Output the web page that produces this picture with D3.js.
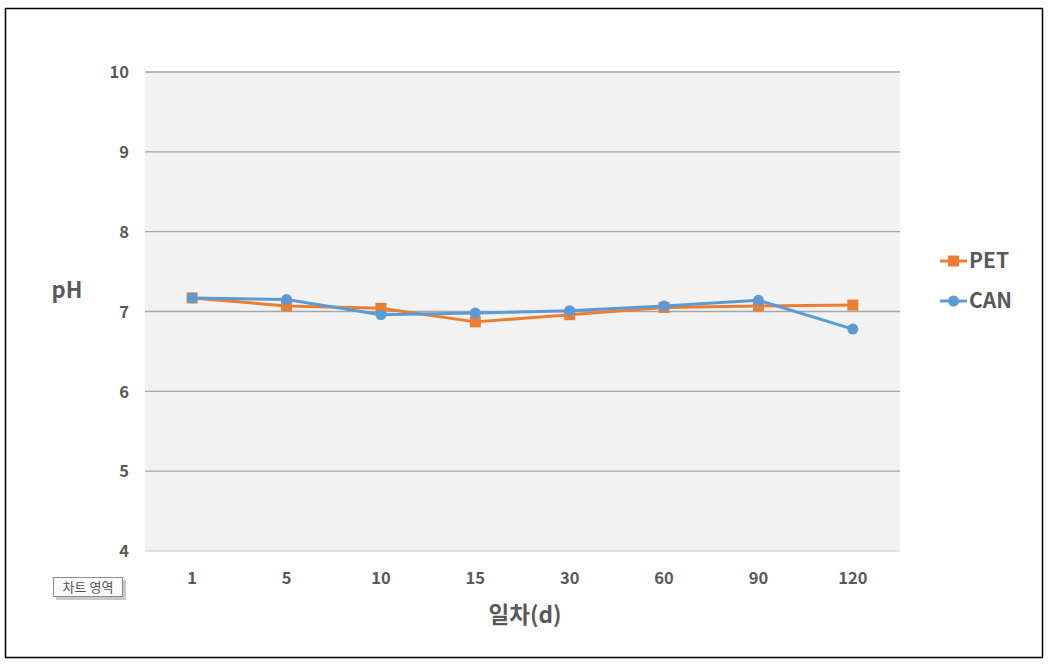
<!DOCTYPE html>
<html><head><meta charset="utf-8">
<script src="https://cdn.jsdelivr.net/npm/d3@7"></script>
<style>body{margin:0;background:#fff;}svg{display:block;}</style>
</head><body>
<svg id="c" width="1050" height="664"></svg>
<script>
const categories = ["1","5","10","15","30","60","90","120"];
const petValues = [7.17, 7.07, 7.04, 6.87, 6.96, 7.05, 7.07, 7.08];
const canValues = [7.17, 7.15, 6.96, 6.98, 7.01, 7.07, 7.14, 6.78];
const yTicks = [4,5,6,7,8,9,10];
const seriesNames = ["PET","CAN"];

const svg = d3.select("#c");
const font = "'Malgun Gothic','Noto Sans CJK KR','Open Sans',sans-serif";
const plot = {l:145, r:900, t:72, b:551};
const x = d3.scaleBand().domain(categories).range([plot.l, plot.r]);
const y = d3.scaleLinear().domain([4,10]).range([plot.b, plot.t]);

svg.append("rect").attr("x",5.5).attr("y",8.5).attr("width",1037).attr("height",649)
  .attr("fill","#fff").attr("stroke","#000").attr("stroke-width",1.5);
svg.append("rect").attr("x",plot.l).attr("y",plot.t).attr("width",plot.r-plot.l).attr("height",plot.b-plot.t)
  .attr("fill","#f2f2f2");

// gridlines
svg.append("g").selectAll("line").data(yTicks).join("line")
  .attr("x1",plot.l).attr("x2",plot.r).attr("y1",d=>y(d)).attr("y2",d=>y(d))
  .attr("stroke",d=>d===4?"#d9d9d9":"#a6a6a6").attr("stroke-width",1.3);

// y axis labels
const yAxis = d3.axisLeft(y).tickValues(yTicks).tickSize(0).tickPadding(0).tickFormat(d3.format("d"));
const gy = svg.append("g").attr("transform",`translate(129,0)`).call(yAxis);
gy.select(".domain").remove();
gy.selectAll("text").attr("font-family",font).attr("font-size",16.5).attr("font-weight","bold").attr("fill","#595959").attr("dy","0.35em");

const xAxis = d3.axisBottom(x).tickSize(0).tickPadding(0);
const gx = svg.append("g").attr("transform",`translate(0,578)`).call(xAxis);
gx.select(".domain").remove();
gx.selectAll("text").attr("font-family",font).attr("font-size",16.5).attr("font-weight","bold").attr("fill","#595959").attr("dy","0.35em");

// axis titles
svg.append("text").attr("x",67).attr("y",290).attr("dy","0.35em").attr("text-anchor","middle")
  .attr("font-family",font).attr("font-size",22).attr("font-weight","bold").attr("fill","#595959").text("pH");
svg.append("text").attr("x",525).attr("y",615).attr("dy","0.35em").attr("text-anchor","middle")
  .attr("font-family",font).attr("font-size",22.5).attr("font-weight","bold").attr("fill","#595959").text("일차(d)");

const colors = {PET:"#ed7d31", CAN:"#5b9bd5"};
const line = d3.line().x((d,i)=>x(categories[i])+x.bandwidth()/2).y(d=>y(d));
const data = {PET:petValues, CAN:canValues};

["PET","CAN"].forEach(name=>{
  const vals = data[name];
  svg.append("path").datum(vals).attr("d",line).attr("fill","none")
    .attr("stroke",colors[name]).attr("stroke-width",3).attr("stroke-linejoin","round");
  const g = svg.append("g");
  if(name==="PET"){
    g.selectAll("rect").data(vals).join("rect")
      .attr("x",(d,i)=>x(categories[i])+x.bandwidth()/2-5.5).attr("y",d=>y(d)-5.5)
      .attr("width",11).attr("height",11).attr("fill",colors[name]);
  } else {
    g.selectAll("circle").data(vals).join("circle")
      .attr("cx",(d,i)=>x(categories[i])+x.bandwidth()/2).attr("cy",d=>y(d))
      .attr("r",5.5).attr("fill",colors[name]);
  }
});

// legend
seriesNames.forEach((name,i)=>{
  const ly = 261 + i*40;
  const g = svg.append("g");
  g.append("line").attr("x1",940).attr("x2",967).attr("y1",ly).attr("y2",ly).attr("stroke",colors[name]).attr("stroke-width",3);
  if(name==="PET") g.append("rect").attr("x",948).attr("y",ly-5.5).attr("width",11).attr("height",11).attr("fill",colors[name]);
  else g.append("circle").attr("cx",953.5).attr("cy",ly).attr("r",5.5).attr("fill",colors[name]);
  g.append("text").attr("x",969).attr("y",ly).attr("dy","0.35em").attr("font-family",font).attr("font-size",21)
    .attr("font-weight","bold").attr("fill","#595959").text(name);
});

// tooltip "차트 영역"
const tt = svg.append("g");
tt.append("rect").attr("x",56).attr("y",580).attr("width",70).attr("height",20).attr("fill","#c8c8c8");
tt.append("rect").attr("x",53.5).attr("y",577.5).attr("width",69).attr("height",19).attr("fill","#fafafa").attr("stroke","#8c8c8c").attr("stroke-width",1);
tt.append("text").attr("x",88).attr("y",587).attr("dy","0.35em").attr("text-anchor","middle")
  .attr("font-family","'Noto Sans CJK KR',sans-serif").attr("font-size",13).attr("fill","#555").text("차트 영역");
</script>
</body></html>
